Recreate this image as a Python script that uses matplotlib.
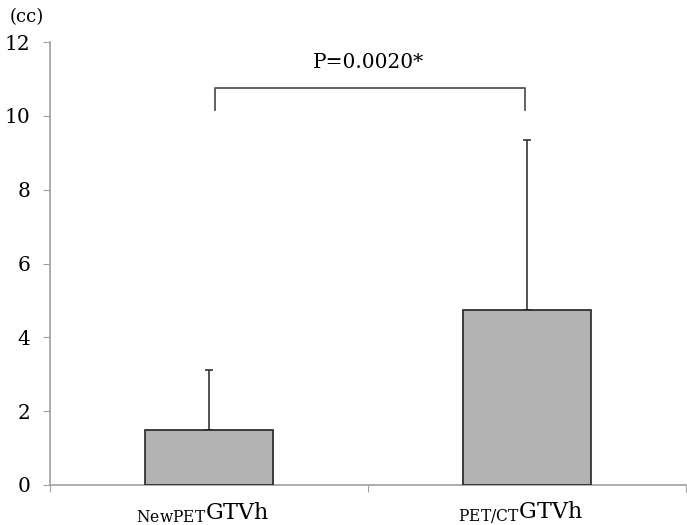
import matplotlib
matplotlib.use("Agg")
import matplotlib.pyplot as plt

categories = ["NewPET", "PET/CT"]
means = [1.49, 4.73]
errors_upper = [1.63, 4.62]
yticks = [0, 2, 4, 6, 8, 10, 12]
p_label = "P=0.0020*"

plt.rcParams['font.family'] = ['DejaVu Serif']
plt.rcParams['mathtext.fontset'] = 'custom'
plt.rcParams['mathtext.rm'] = 'DejaVu Serif'

fig = plt.figure(figsize=(6.87, 5.25), dpi=100)
ax = fig.add_axes([50/687, 1-485/525, 636/687, (485-42)/525])

x = list(range(len(categories)))
ax.bar(x, means, width=0.4, color='#b2b2b2', edgecolor='#222222', linewidth=1.2, zorder=3)
ax.errorbar(x, means, yerr=[[0]*len(means), errors_upper], fmt='none',
            ecolor='#333333', elinewidth=1.2, capsize=3, capthick=1.2, zorder=2)

ax.set_xlim(-0.5, 1.5)
ax.set_ylim(0, 12)
ax.set_yticks(yticks)
ax.set_yticklabels([str(v) for v in yticks], fontsize=14.5)

ax.set_xticks([-0.5, 0.5, 1.5])
ax.set_xticklabels([])
ax.tick_params(axis='x', direction='out', length=5, color='#a0a0a0')
ax.tick_params(axis='y', direction='out', length=5, color='#a0a0a0', pad=9)

for s in ['top', 'right']:
    ax.spines[s].set_visible(False)
for s in ['left', 'bottom']:
    ax.spines[s].set_color('#a0a0a0')
    ax.spines[s].set_linewidth(1.2)

for xi, c in zip(x, categories):
    ax.text(xi - 0.02, -0.75, r'$_{\mathrm{' + c + r'}}\mathrm{GTVh}$', ha='center', va='center',
            fontsize=16, transform=ax.transData)

# significance bracket
y_top, y_bot = 10.76, 10.16
ax.plot([0.02, 0.02, 0.995, 0.995], [y_bot, y_top, y_top, y_bot], color='#555555', lw=1.3, clip_on=False)
ax.text(0.5, 11.45, p_label, ha='center', va='center', fontsize=14.5)

fig.text(10/687, 1-17/525, '(cc)', ha='left', va='center', fontsize=13)

fig.savefig('out.png', dpi=100)
